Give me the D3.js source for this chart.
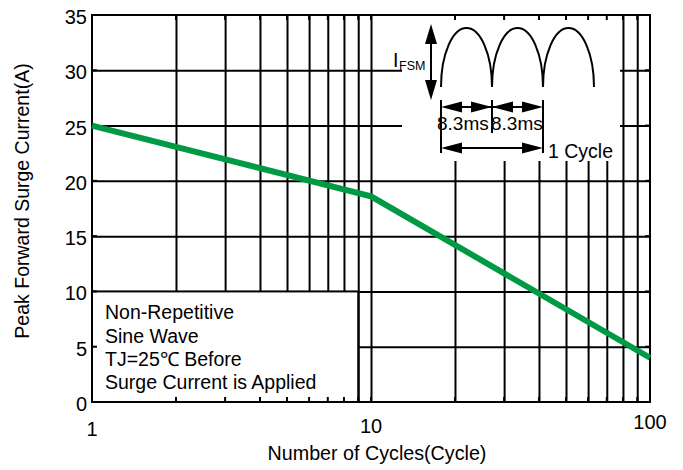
<!DOCTYPE html>
<html>
<head>
<meta charset="utf-8">
<script src="https://cdn.jsdelivr.net/npm/d3@7"></script>
<style>
  body { margin: 0; background: #fff; }
  svg { display: block; font-family: "Liberation Sans", Arial, sans-serif; }
</style>
</head>
<body>
<svg id="chart" width="683" height="470"></svg>
<script>
// data
var cycles = [1, 10, 100];
var surge = [25, 18.6, 4];
var xLabels = [1, 10, 100];
var xGrid = [2, 3, 4, 5, 6, 7, 8, 9, 10, 20, 30, 40, 50, 60, 70, 80, 90];
var yLabels = [0, 5, 10, 15, 20, 25, 30, 35];
var yGrid = [5, 10, 15, 20, 25, 30];
var noteLines = ["Non-Repetitive", "Sine Wave", "TJ=25\u2103 Before", "Surge Current is Applied"];

var pLeft = 92, pRight = 650, pTop = 15, pBottom = 402;
var green = "#009a44";

var svg = d3.select("#chart");

var x = d3.scaleLog().domain([1, 100]).range([pLeft, pRight]);
var y = d3.scaleLinear().domain([0, 35]).range([pBottom, pTop]);

// grid lines
svg.append("g")
  .attr("transform", "translate(0," + pBottom + ")")
  .call(d3.axisBottom(x).tickValues(xGrid).tickSize(-(pBottom - pTop)).tickFormat(""))
  .call(function(g) {
    g.select(".domain").remove();
    g.selectAll("line").attr("stroke", "#000").attr("stroke-width", 2);
  });

svg.append("g")
  .attr("transform", "translate(" + pLeft + ",0)")
  .call(d3.axisLeft(y).tickValues(yGrid).tickSize(-(pRight - pLeft)).tickFormat(""))
  .call(function(g) {
    g.select(".domain").remove();
    g.selectAll("line").attr("stroke", "#000").attr("stroke-width", 2);
  });

// white boxes that hide the grid (note box + inset)
svg.append("rect")
  .attr("x", pLeft).attr("y", y(10))
  .attr("width", x(9) - pLeft).attr("height", pBottom - y(10))
  .attr("fill", "#fff").attr("stroke", "#000").attr("stroke-width", 2);

svg.append("rect")
  .attr("x", 402).attr("y", pTop)
  .attr("width", 218).attr("height", 146)
  .attr("fill", "#fff");

// inward ticks on the frame
var ticks = svg.append("g").attr("stroke", "#000").attr("stroke-width", 2);
xGrid.forEach(function(v) {
  ticks.append("line").attr("x1", x(v)).attr("x2", x(v)).attr("y1", pBottom).attr("y2", pBottom - 5);
  ticks.append("line").attr("x1", x(v)).attr("x2", x(v)).attr("y1", pTop).attr("y2", pTop + 5);
});
yGrid.forEach(function(v) {
  ticks.append("line").attr("x1", pLeft).attr("x2", pLeft + 5).attr("y1", y(v)).attr("y2", y(v));
  ticks.append("line").attr("x1", pRight).attr("x2", pRight - 5).attr("y1", y(v)).attr("y2", y(v));
});

// frame
svg.append("rect")
  .attr("x", pLeft).attr("y", pTop)
  .attr("width", pRight - pLeft).attr("height", pBottom - pTop)
  .attr("fill", "none").attr("stroke", "#000").attr("stroke-width", 2);

// curve
var pts = cycles.map(function(c, i) { return [c, surge[i]]; });
svg.append("path")
  .datum(pts)
  .attr("fill", "none")
  .attr("stroke", green)
  .attr("stroke-width", 6)
  .attr("d", d3.line().x(function(d) { return x(d[0]); }).y(function(d) { return y(d[1]); }));

// tick labels
svg.append("g").selectAll("text")
  .data(yLabels).enter().append("text")
  .attr("x", 87)
  .attr("y", function(d) { return y(d) + 9; })
  .attr("text-anchor", "end")
  .attr("font-size", 20)
  .text(function(d) { return d; });

var xLabelDy = [34, 31, 27];
svg.append("g").selectAll("text")
  .data(xLabels).enter().append("text")
  .attr("x", function(d) { return x(d); })
  .attr("y", function(d, i) { return pBottom + xLabelDy[i]; })
  .attr("text-anchor", "middle")
  .attr("font-size", 20)
  .text(function(d) { return d; });

// axis titles
svg.append("text")
  .attr("x", 377).attr("y", 460)
  .attr("text-anchor", "middle")
  .attr("font-size", 19.7)
  .text("Number of Cycles(Cycle)");

svg.append("text")
  .attr("transform", "translate(29,201) rotate(-90)")
  .attr("text-anchor", "middle")
  .attr("font-size", 19.5)
  .text("Peak Forward Surge Current(A)");

// note box text
svg.append("g").selectAll("text")
  .data(noteLines).enter().append("text")
  .attr("x", 105)
  .attr("y", function(d, i) { return y(10) + 28 + i * 23.3; })
  .attr("font-size", 19.5)
  .text(function(d) { return d; });

// inset: surge waveform sketch
var inset = svg.append("g");

function arrowHead(g, tx, ty, dx, dy, len, hw) {
  // tip at (tx,ty), pointing along (dx,dy)
  var bx = tx - dx * len, by = ty - dy * len;
  var px = -dy * hw, py = dx * hw;
  g.append("path")
    .attr("d", "M" + tx + "," + ty + "L" + (bx + px) + "," + (by + py) + "L" + (bx - px) + "," + (by - py) + "Z")
    .attr("fill", "#000");
}

var humpX = [441, 492, 543, 594];
var humpBase = 87, humpTop = 28;
var humpD = "M" + humpX[0] + "," + humpBase;
for (var i = 1; i < humpX.length; i++) {
  var rx = (humpX[i] - humpX[i - 1]) / 2;
  humpD += "A" + rx + "," + (humpBase - humpTop) + " 0 0 1 " + humpX[i] + "," + humpBase;
}
inset.append("path").attr("d", humpD).attr("fill", "none").attr("stroke", "#000").attr("stroke-width", 2);

// vertical IFSM arrow
inset.append("line").attr("x1", 431).attr("x2", 431).attr("y1", 34).attr("y2", 90)
  .attr("stroke", "#000").attr("stroke-width", 2);
arrowHead(inset, 431, 24, 0, -1, 20, 6);
arrowHead(inset, 431, 100, 0, 1, 20, 6);

inset.append("text").attr("x", 393).attr("y", 67).attr("font-size", 19.5).text("I");
inset.append("text").attr("x", 399).attr("y", 70).attr("font-size", 12.5).text("FSM");

// extension lines
var ext = [[441, 100, 153], [492, 100, 133], [543, 100, 153]];
ext.forEach(function(e) {
  inset.append("line").attr("x1", e[0]).attr("x2", e[0]).attr("y1", e[1]).attr("y2", e[2])
    .attr("stroke", "#000").attr("stroke-width", 2);
});

// 8.3ms dimension arrows
inset.append("line").attr("x1", 445).attr("x2", 539).attr("y1", 107).attr("y2", 107)
  .attr("stroke", "#000").attr("stroke-width", 2);
arrowHead(inset, 441, 107, -1, 0, 21, 5.5);
arrowHead(inset, 492, 107, 1, 0, 21, 5.5);
arrowHead(inset, 492, 107, -1, 0, 21, 5.5);
arrowHead(inset, 543, 107, 1, 0, 21, 5.5);

inset.append("text").attr("x", 437).attr("y", 130).attr("font-size", 19).text("8.3ms");
inset.append("text").attr("x", 491).attr("y", 130).attr("font-size", 19).text("8.3ms");

// 1 cycle arrow
inset.append("line").attr("x1", 445).attr("x2", 539).attr("y1", 148).attr("y2", 148)
  .attr("stroke", "#000").attr("stroke-width", 2);
arrowHead(inset, 441, 148, -1, 0, 21, 5.5);
arrowHead(inset, 543, 148, 1, 0, 21, 5.5);

inset.append("text").attr("x", 548).attr("y", 158).attr("font-size", 19.5).text("1 Cycle");
</script>
</body>
</html>
